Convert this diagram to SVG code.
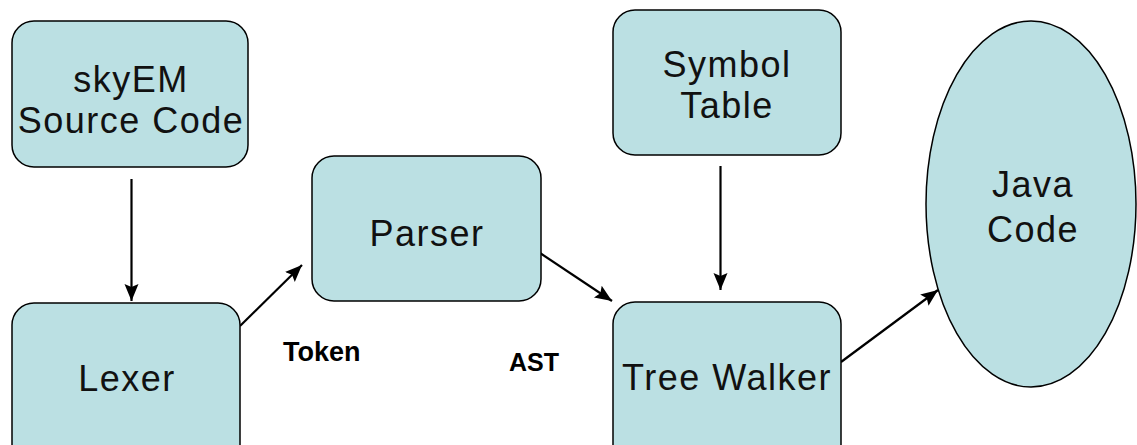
<svg xmlns="http://www.w3.org/2000/svg" width="1137" height="445" viewBox="0 0 1137 445">
<style>
.box{fill:#BBE0E3;stroke:#000;stroke-width:1.5}
.lbl{font-family:"Liberation Sans",Arial,sans-serif;font-size:36px;letter-spacing:1.5px;fill:#111;text-anchor:middle}
.edge{stroke:#000;stroke-width:2.2;fill:none;marker-end:url(#arr)}
.tag{font-family:"Liberation Sans",Arial,sans-serif;fill:#000;font-weight:bold}
</style>
<defs>
<marker id="arr" markerUnits="userSpaceOnUse" markerWidth="18" markerHeight="18" viewBox="0 0 18 18" refX="17" refY="9" orient="auto">
<polygon points="0,2 17,9 0,16 3,9" fill="#000"/>
</marker>
</defs>
<rect width="1137" height="445" fill="#fff"/>
<g id="connectors">
<line class="edge" x1="131.5" y1="179" x2="131.5" y2="301"/>
<line class="edge" x1="720.5" y1="166" x2="720.5" y2="290"/>
<line class="edge" x1="240" y1="326" x2="302" y2="265"/>
<line class="edge" x1="540" y1="253" x2="612" y2="301"/>
<line class="edge" x1="841" y1="362" x2="938" y2="290"/>
</g>
<g id="skyem">
<rect class="box" x="12" y="21" width="236" height="146" rx="22" ry="22"/>
<text class="lbl" x="131" y="92">skyEM</text>
<text class="lbl" x="131" y="133">Source Code</text>
</g>
<g id="lexer">
<rect class="box" x="12" y="303" width="228" height="170" rx="22" ry="22"/>
<text class="lbl" x="127" y="391">Lexer</text>
</g>
<g id="parser">
<rect class="box" x="312" y="156" width="229" height="145" rx="22" ry="22"/>
<text class="lbl" x="427" y="246">Parser</text>
</g>
<g id="symbol">
<rect class="box" x="613" y="10" width="228" height="145" rx="22" ry="22"/>
<text class="lbl" x="727" y="77">Symbol</text>
<text class="lbl" x="727" y="118">Table</text>
</g>
<g id="treewalker">
<rect class="box" x="613" y="302" width="228" height="170" rx="22" ry="22"/>
<text class="lbl" x="727" y="390">Tree Walker</text>
</g>
<g id="java">
<ellipse class="box" cx="1031" cy="204" rx="105" ry="183"/>
<text class="lbl" x="1033" y="197">Java</text>
<text class="lbl" x="1033" y="242">Code</text>
</g>
<g id="labels">
<text class="tag" x="283" y="361" font-size="27">Token</text>
<text class="tag" x="509" y="371" font-size="25">AST</text>
</g>
</svg>
